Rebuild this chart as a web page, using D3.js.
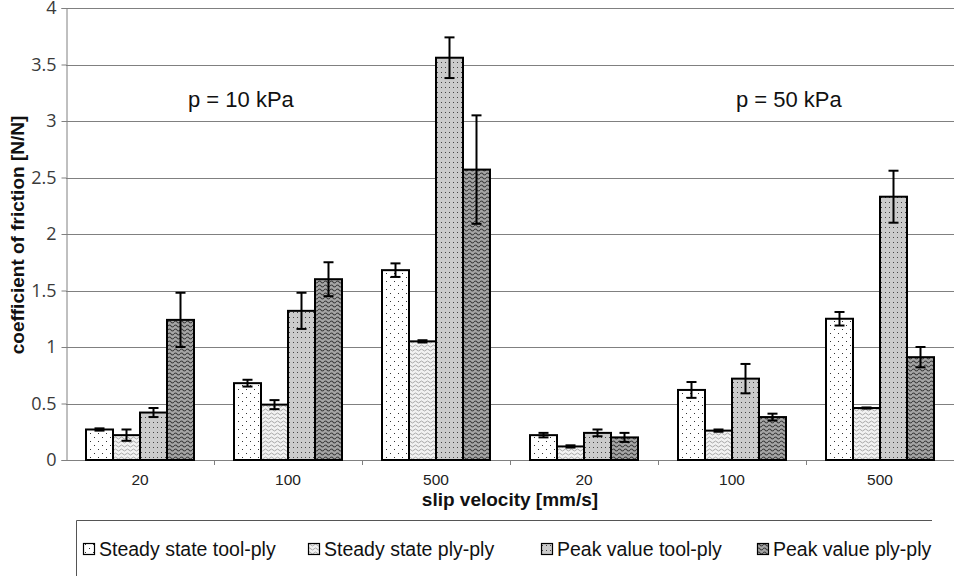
<!DOCTYPE html>
<html lang="en">
<head>
<meta charset="utf-8">
<title>Coefficient of friction</title>
<script src="https://cdn.jsdelivr.net/npm/d3@7"></script>
<style>
  body { margin: 0; background: #fff; }
  svg { display: block; font-family: "Liberation Sans", Arial, sans-serif; }
</style>
</head>
<body>
<svg id="chart" width="954" height="576"></svg>
<script>
// groups along the x axis (two pressures, three velocities each)
var groups = ["p10-20", "p10-100", "p10-500", "p50-20", "p50-100", "p50-500"];
var groupLabels = ["20", "100", "500", "20", "100", "500"];
var pressureLabels = ["p = 10 kPa", "p = 50 kPa"];
var seriesNames = ["Steady state tool-ply", "Steady state ply-ply", "Peak value tool-ply", "Peak value ply-ply"];

// mean values, one array per series
var ssToolPly = [0.27, 0.68, 1.68, 0.22, 0.62, 1.25];
var ssPlyPly  = [0.22, 0.49, 1.05, 0.12, 0.26, 0.46];
var pkToolPly = [0.42, 1.32, 3.56, 0.24, 0.72, 2.33];
var pkPlyPly  = [1.24, 1.60, 2.57, 0.20, 0.38, 0.91];

// error bar half widths
var ssToolPlyErr = [0.01, 0.03, 0.06, 0.02, 0.07, 0.06];
var ssPlyPlyErr  = [0.05, 0.04, 0.01, 0.01, 0.01, 0.005];
var pkToolPlyErr = [0.04, 0.16, 0.18, 0.03, 0.13, 0.23];
var pkPlyPlyErr  = [0.24, 0.15, 0.48, 0.04, 0.03, 0.09];

var yTicks = [0, 0.5, 1, 1.5, 2, 2.5, 3, 3.5, 4];

var values = [ssToolPly, ssPlyPly, pkToolPly, pkPlyPly];
var errors = [ssToolPlyErr, ssPlyPlyErr, pkToolPlyErr, pkPlyPlyErr];

var svg = d3.select("#chart");
var margin = {left: 66, right: 0, top: 8, bottom: 116};
var W = 954, H = 576;

var x = d3.scaleBand().domain(groups).range([margin.left, W - margin.right]);
var xi = d3.scaleBand().domain(d3.range(4)).range([20, x.bandwidth() - 20]);
var y = d3.scaleLinear().domain([0, 4]).range([H - margin.bottom, margin.top]);

// fill patterns
var defs = svg.append("defs");
var p1 = defs.append("pattern").attr("id", "pat0").attr("patternUnits", "userSpaceOnUse")
  .attr("width", 8).attr("height", 8);
p1.append("rect").attr("width", 8).attr("height", 8).attr("fill", "#fff");
p1.append("rect").attr("x", 2).attr("y", 1).attr("width", 1).attr("height", 1).attr("fill", "#333");
p1.append("rect").attr("x", 6).attr("y", 5).attr("width", 1).attr("height", 1).attr("fill", "#333");

var p2 = defs.append("pattern").attr("id", "pat1").attr("patternUnits", "userSpaceOnUse")
  .attr("width", 6).attr("height", 4);
p2.append("rect").attr("width", 6).attr("height", 4).attr("fill", "#f2f2f2");
p2.append("path").attr("d", "M0 2 Q1.5 0 3 2 T6 2").attr("fill", "none")
  .attr("stroke", "#a8a8a8").attr("stroke-width", 1);

var p3 = defs.append("pattern").attr("id", "pat2").attr("patternUnits", "userSpaceOnUse")
  .attr("width", 4).attr("height", 5);
p3.append("rect").attr("width", 4).attr("height", 5).attr("fill", "#cbcbcb");
p3.append("rect").attr("x", 1).attr("y", 2).attr("width", 1).attr("height", 1).attr("fill", "#444");

var p4 = defs.append("pattern").attr("id", "pat3").attr("patternUnits", "userSpaceOnUse")
  .attr("width", 6).attr("height", 4);
p4.append("rect").attr("width", 6).attr("height", 4).attr("fill", "#a6a6a6");
p4.append("path").attr("d", "M0 2 Q1.5 0 3 2 T6 2").attr("fill", "none")
  .attr("stroke", "#3a3a3a").attr("stroke-width", 1.1);

// gridlines
svg.append("g").selectAll("line").data(yTicks.slice(1)).enter().append("line")
  .attr("x1", margin.left).attr("x2", W - margin.right)
  .attr("y1", function(d) { return Math.round(y(d)) + 0.5; })
  .attr("y2", function(d) { return Math.round(y(d)) + 0.5; })
  .attr("stroke", "#808080").attr("stroke-width", 1);

// y axis
var yAxis = svg.append("g").attr("transform", "translate(" + (margin.left + 0.5) + ",0)")
  .call(d3.axisLeft(y).tickValues(yTicks).tickSize(5).tickFormat(d3.format("")));
yAxis.select(".domain").attr("stroke", "#808080");
yAxis.selectAll(".tick line").attr("stroke", "#808080");
yAxis.selectAll(".tick text").attr("x", -10).attr("font-size", 18)
  .attr("font-family", "'Open Sans', sans-serif").attr("fill", "#3a3a3a");

// x axis line + group separators
svg.append("line").attr("x1", margin.left).attr("x2", W)
  .attr("y1", y(0) + 0.5).attr("y2", y(0) + 0.5).attr("stroke", "#808080");
svg.append("g").selectAll("line").data(groups.slice(1)).enter().append("line")
  .attr("x1", function(d) { return Math.round(x(d)) + 0.5; })
  .attr("x2", function(d) { return Math.round(x(d)) + 0.5; })
  .attr("y1", y(0)).attr("y2", y(0) + 5).attr("stroke", "#808080");
svg.append("g").selectAll("text").data(groups).enter().append("text")
  .attr("x", function(d) { return x(d) + x.bandwidth() / 2; })
  .attr("y", y(0) + 25).attr("text-anchor", "middle").attr("font-size", 15.5).attr("fill", "#222")
  .text(function(d, i) { return groupLabels[i]; });

// bars
var bars = svg.append("g");
values.forEach(function(vals, s) {
  bars.append("g").selectAll("rect").data(vals).enter().append("rect")
    .attr("x", function(d, i) { return x(groups[i]) + xi(s); })
    .attr("y", function(d) { return y(d); })
    .attr("width", xi.bandwidth())
    .attr("height", function(d) { return y(0) - y(d); })
    .attr("fill", "url(#pat" + s + ")")
    .attr("stroke", "#000").attr("stroke-width", 2);
});

// error bars
values.forEach(function(vals, s) {
  var g = svg.append("g").attr("stroke", "#000").attr("stroke-width", 2);
  vals.forEach(function(v, i) {
    var cx = x(groups[i]) + xi(s) + xi.bandwidth() / 2;
    var e = errors[s][i];
    g.append("line").attr("x1", cx).attr("x2", cx).attr("y1", y(v + e)).attr("y2", y(v - e));
    g.append("line").attr("x1", cx - 5).attr("x2", cx + 5).attr("y1", y(v + e)).attr("y2", y(v + e));
    g.append("line").attr("x1", cx - 5).attr("x2", cx + 5).attr("y1", y(v - e)).attr("y2", y(v - e));
  });
});

// pressure annotations
var pressureX = [0.197, 0.814]; // fraction of the plot width
svg.append("g").selectAll("text").data(pressureLabels).enter().append("text")
  .attr("x", function(d, i) { return margin.left + pressureX[i] * (W - margin.left); })
  .attr("y", 107).attr("text-anchor", "middle").attr("font-size", 22).attr("fill", "#111")
  .text(function(d) { return d; });

// axis titles
svg.append("text").attr("transform", "translate(24," + ((margin.top + y(0)) / 2 + 1) + ") rotate(-90)")
  .attr("text-anchor", "middle").attr("font-size", 19).attr("font-weight", "bold").attr("fill", "#111")
  .text("coefficient of friction [N/N]");
svg.append("text").attr("x", 510).attr("y", 506).attr("text-anchor", "middle")
  .attr("font-size", 19).attr("font-weight", "bold").attr("fill", "#111")
  .text("slip velocity [mm/s]");

// legend box (top and left edges visible)
svg.append("path").attr("d", "M76.5,576 V520.5 H932").attr("fill", "none").attr("stroke", "#555");
var legendX = [83, 308, 541, 757];
var lg = svg.append("g").selectAll("g").data(seriesNames).enter().append("g")
  .attr("transform", function(d, i) { return "translate(" + legendX[i] + ",543)"; });
lg.append("rect").attr("x", 0.5).attr("y", 0.5).attr("width", 11).attr("height", 11)
  .attr("fill", function(d, i) { return "url(#pat" + i + ")"; })
  .attr("stroke", "#000").attr("stroke-width", 1.2);
lg.append("text").attr("x", 16).attr("y", 13).attr("font-size", 19.5).attr("fill", "#111")
  .text(function(d) { return d; });
</script>
</body>
</html>
